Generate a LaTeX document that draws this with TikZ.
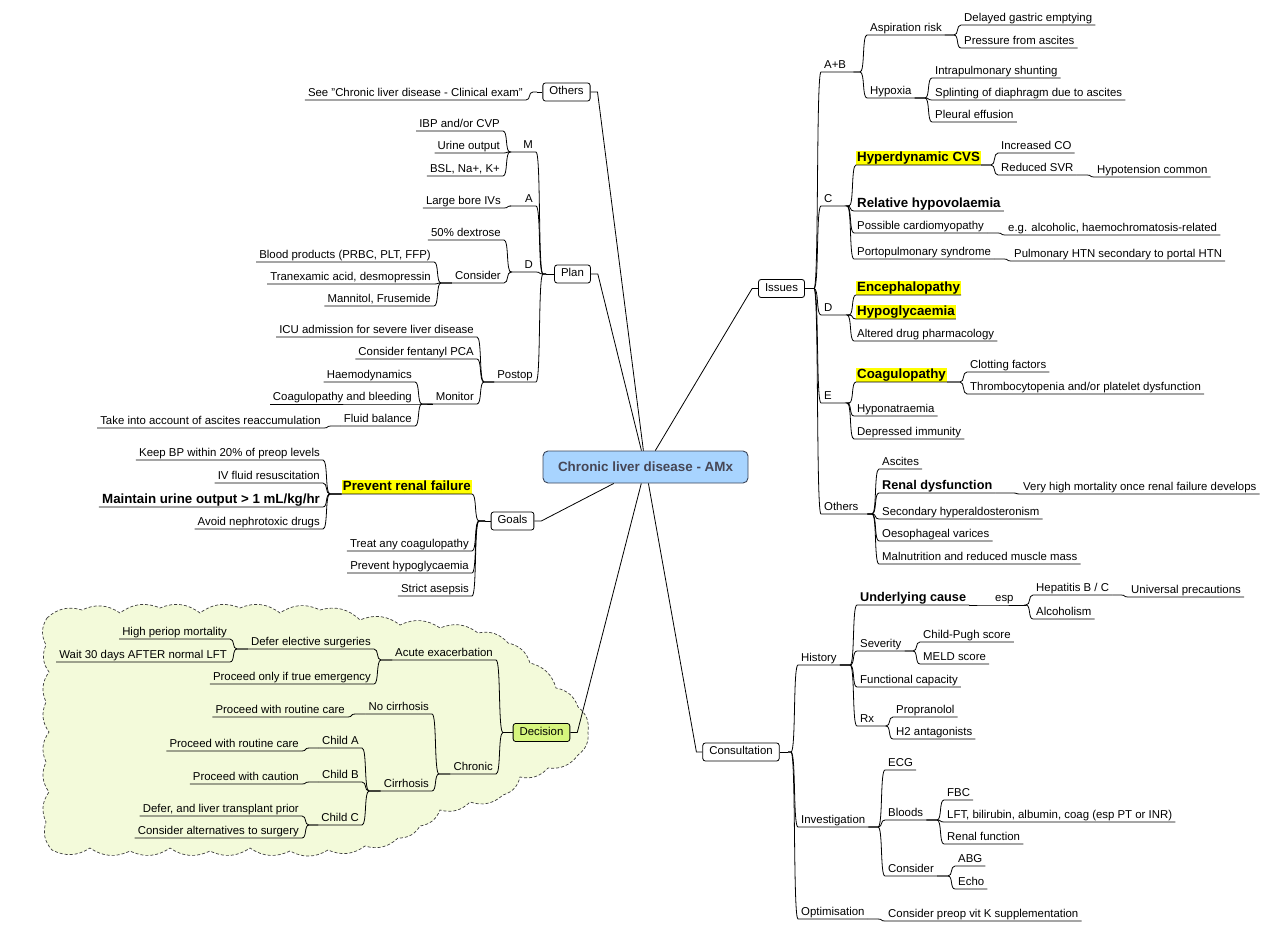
\documentclass[tikz,border=0pt]{standalone}
\usepackage{fontspec}
\setmainfont{Liberation Sans}
\usetikzlibrary{calc}
\definecolor{rootfill}{RGB}{168,212,255}
\definecolor{rootdraw}{RGB}{60,70,90}
\definecolor{roottext}{RGB}{70,70,85}
\definecolor{decfill}{RGB}{214,245,125}
\definecolor{cloudfill}{RGB}{243,250,218}
\definecolor{cloudline}{RGB}{60,60,60}
\definecolor{hly}{RGB}{255,255,0}
\newcommand\fntN{\fontsize{11.4}{13}\selectfont}
\newcommand\fntB{\fontsize{13.3}{15}\selectfont\bfseries}
\newcommand\fntM{\fontsize{12.7}{15}\selectfont\bfseries}
\newcommand\fntR{\fontsize{13.4}{15}\selectfont\bfseries}
\tikzset{
 conn/.style={line width=0.8pt, draw=black},
 tp/.style={font=\fntN, inner xsep=3pt, inner ysep=0pt, text height=8.5pt, text depth=3pt},
 R/.style={tp, anchor=south west},
 L/.style={tp, anchor=south east},
 big/.style={font=\fntB, text height=10pt, text depth=3.3pt},
 mid/.style={font=\fntM, text height=9.6pt, text depth=3.2pt},
 hl/.style={font=\fntB, fill=hly, inner xsep=1pt, text height=10.3pt, text depth=3.3pt},
 box/.style={draw=black, line width=0.8pt, rounded corners=2.5pt, fill=white, font=\fntN, inner xsep=6.5pt, inner ysep=0pt, text height=8.2pt, text depth=2.5pt, minimum height=18pt},
 rootbox/.style={draw=rootdraw, line width=0.9pt, rounded corners=5pt, fill=rootfill, text=roottext, font=\fntR, minimum width=205pt, minimum height=32pt},
 cloudst/.style={fill=cloudfill, draw=cloudline, line width=0.7pt, dash pattern=on 3pt off 2pt},
}
\newcommand\cR[2]{\draw[conn] (#1) -- ($(#2.south west |- #1)+(-7,0)$) to[out=0,in=180,distance=5pt] (#2.south west) -- (#2.south east);}
\newcommand\cL[2]{\draw[conn] (#1) -- ($(#2.south east |- #1)+(7,0)$) to[out=180,in=0,distance=5pt] (#2.south east) -- (#2.south west);}
\begin{document}
\begin{tikzpicture}[x=1pt,y=-1pt]
\useasboundingbox (0,0) rectangle (1267,939);
% cloud
\path[cloudst] (47,618) to[bend left=30] (82,610) to[bend left=30] (120,613) to[bend left=30] (160,608)
 to[bend left=30] (200,613) to[bend left=30] (240,608) to[bend left=30] (280,613) to[bend left=30] (320,610)
 to[bend left=30] (360,620) to[bend left=30] (400,625) to[bend left=30] (440,628) to[bend left=30] (478,633)
 to[bend left=30] (508,643) to[bend left=30] (530,663) to[bend left=30] (556,688) to[bend left=30] (578,707)
 to[bend left=30] (588,732) to[bend left=30] (578,755) to[bend left=30] (548,768) to[bend left=30] (520,777)
 to[bend left=30] (503,795) to[bend left=30] (470,802) to[bend left=30] (440,810) to[bend left=30] (420,826)
 to[bend left=30] (398,838) to[bend left=30] (365,846) to[bend left=30] (328,850) to[bend left=30] (290,851)
 to[bend left=30] (250,848) to[bend left=30] (210,851) to[bend left=30] (170,848) to[bend left=30] (130,851)
 to[bend left=30] (90,848) to[bend left=30] (52,850) to[bend left=30] (46,822) to[bend left=30] (49,792)
 to[bend left=30] (46,762) to[bend left=30] (49,732) to[bend left=30] (46,702) to[bend left=30] (49,672)
 to[bend left=30] (46,645) to[bend left=30] (47,618) -- cycle;

% boxes
\node[rootbox] (root) at (645.5,467) {Chronic liver disease - AMx};
\node[box] (others) at (566.5,92) {Others};
\node[box] (plan) at (572.5,274) {Plan};
\node[box] (goals) at (512.5,521) {Goals};
\node[box, fill=decfill] (decision) at (541.5,732.5) {Decision};
\node[box] (issues) at (781.5,288.5) {Issues};
\node[box] (consult) at (741,752) {Consultation};

% left: others + plan
\node[L] (seeCLD) at (526,100) {See "Chronic liver disease - Clinical exam"};
\node[L] (mM) at (536,152) {\makebox[20pt][r]{M}};
\node[L] (ibp) at (503,131) {IBP and/or CVP};
\node[L] (urine) at (503,153) {Urine output};
\node[L] (bsl) at (503,176) {BSL, Na+, K+};
\node[L] (aA) at (536,206) {\makebox[20pt][r]{A}};
\node[L] (lbiv) at (504,208) {Large bore IVs};
\node[L] (dDl) at (536,272) {\makebox[20pt][r]{D}};
\node[L] (dex) at (504,240) {50\% dextrose};
\node[L] (consD) at (504,283) {Consider};
\node[L] (blood) at (434,262) {Blood products (PRBC, PLT, FFP)};
\node[L] (tranex) at (434,284) {Tranexamic acid, desmopressin};
\node[L] (mann) at (434,306) {Mannitol, Frusemide};
\node[L] (postop) at (536,382) {Postop};
\node[L] (icu) at (477,337) {ICU admission for severe liver disease};
\node[L] (fent) at (477,359) {Consider fentanyl PCA};
\node[L] (monitor) at (477,404) {Monitor};
\node[L] (haem) at (415,382) {Haemodynamics};
\node[L] (coagb) at (415,404) {Coagulopathy and bleeding};
\node[L] (fluid) at (415,426) {Fluid balance};
\node[L] (ascreac) at (324,428) {Take into account of ascites reaccumulation};
% goals
\node[L,hl] (prf) at (472,494) {Prevent renal failure};
\node[L] (keepbp) at (323,460) {Keep BP within 20\% of preop levels};
\node[L] (ivf) at (323,483) {IV fluid resuscitation};
\node[L,big] (mainuo) at (323,507) {Maintain urine output > 1 mL/kg/hr};
\node[L] (avoid) at (323,529) {Avoid nephrotoxic drugs};
\node[L] (treat) at (472,551) {Treat any coagulopathy};
\node[L] (prevhypo) at (472,573) {Prevent hypoglycaemia};
\node[L] (asep) at (472,596) {Strict asepsis};
% decision
\node[L] (acute) at (496,660) {Acute exacerbation};
\node[L] (defer) at (374,649) {Defer elective surgeries};
\node[L] (highp) at (230,639) {High periop mortality};
\node[L] (wait30) at (230,662) {Wait 30 days AFTER normal LFT};
\node[L] (emerg) at (374,684) {Proceed only if true emergency};
\node[L] (chronic) at (496,774) {Chronic};
\node[L] (nocirr) at (432,714) {No cirrhosis};
\node[L] (routineA) at (348,717) {Proceed with routine care};
\node[L] (cirr) at (432,791) {Cirrhosis};
\node[L] (childA) at (362,748) {Child A};
\node[L] (routineB) at (302,751) {Proceed with routine care};
\node[L] (childB) at (362,782) {Child B};
\node[L] (caution) at (302,784) {Proceed with caution};
\node[L] (childC) at (362,825) {Child C};
\node[L] (deferLT) at (302,816) {Defer, and liver transplant prior};
\node[L] (altsurg) at (302,838) {Consider alternatives to surgery};

% right: issues
\node[R] (ab) at (821,72) {\makebox[26pt][l]{A+B}};
\node[R] (asp) at (867,35) {Aspiration risk};
\node[R] (delayed) at (961,25) {Delayed gastric emptying};
\node[R] (pressure) at (961,48) {Pressure from ascites};
\node[R] (hypoxia) at (867,98) {Hypoxia};
\node[R] (intra) at (932,78) {Intrapulmonary shunting};
\node[R] (splint) at (932,100) {Splinting of diaphragm due to ascites};
\node[R] (pleural) at (932,122) {Pleural effusion};
\node[R] (cC) at (821,206) {\makebox[22pt][l]{C}};
\node[R,hl] (hyper) at (856,165) {Hyperdynamic CVS};
\node[R] (incCO) at (998,153) {Increased CO};
\node[R] (redSVR) at (998,175) {Reduced SVR};
\node[R] (hypot) at (1094,177) {Hypotension common};
\node[R,big] (relhyp) at (854,211) {Relative hypovolaemia};
\node[R] (cardio) at (854,233) {Possible cardiomyopathy};
\node[R] (egalc) at (1005,235) {e.g. alcoholic, haemochromatosis-related};
\node[R] (porto) at (854,259) {Portopulmonary syndrome};
\node[R] (pulm) at (1011,261) {Pulmonary HTN secondary to portal HTN};
\node[R] (dD) at (821,315) {\makebox[22pt][l]{D}};
\node[R,hl] (enceph) at (856,295) {Encephalopathy};
\node[R,hl] (hypogly) at (856,319) {Hypoglycaemia};
\node[R] (altered) at (854,341) {Altered drug pharmacology};
\node[R] (eE) at (821,403) {\makebox[22pt][l]{E}};
\node[R,hl] (coagul) at (856,382) {Coagulopathy};
\node[R] (clot) at (967,372) {Clotting factors};
\node[R] (thromb) at (967,394) {Thrombocytopenia and/or platelet dysfunction};
\node[R] (hypona) at (854,416) {Hyponatraemia};
\node[R] (depimm) at (854,439) {Depressed immunity};
\node[R] (othR) at (821,514) {\makebox[40pt][l]{Others}};
\node[R] (ascites) at (879,469) {Ascites};
\node[R,mid] (renal) at (879,493) {Renal dysfunction};
\node[R] (vhm) at (1020,494) {Very high mortality once renal failure develops};
\node[R] (sechyp) at (879,519) {Secondary hyperaldosteronism};
\node[R] (oeso) at (879,541) {Oesophageal varices};
\node[R] (malnut) at (879,564) {Malnutrition and reduced muscle mass};
% consultation
\node[R] (history) at (798,665) {History};
\node[R,mid] (underl) at (857,605) {Underlying cause};
\node[R] (esp) at (992,605) {\makebox[28pt][l]{esp}};
\node[R] (hepBC) at (1033,595) {Hepatitis B / C};
\node[R] (univ) at (1128,597) {Universal precautions};
\node[R] (alcohol) at (1033,619) {Alcoholism};
\node[R] (severity) at (857,651) {Severity};
\node[R] (childpugh) at (920,642) {Child-Pugh score};
\node[R] (meld) at (920,664) {MELD score};
\node[R] (funccap) at (857,687) {Functional capacity};
\node[R] (rx) at (857,726) {\makebox[22pt][l]{Rx}};
\node[R] (propr) at (893,717) {Propranolol};
\node[R] (h2) at (893,739) {H2 antagonists};
\node[R] (invest) at (798,827) {Investigation};
\node[R] (ecg) at (885,770) {ECG};
\node[R] (bloods) at (885,820) {Bloods};
\node[R] (fbc) at (944,800) {FBC};
\node[R] (lft) at (944,822) {LFT, bilirubin, albumin, coag (esp PT or INR)};
\node[R] (renalf) at (944,844) {Renal function};
\node[R] (considI) at (885,876) {Consider};
\node[R] (abg) at (955,866) {ABG};
\node[R] (echo) at (955,889) {Echo};
\node[R] (optim) at (798,919) {Optimisation};
\node[R] (vitK) at (885,921) {Consider preop vit K supplementation};

% main connectors
\draw[conn] (root) -- ($(others.east)+(7,0)$) -- (others.east);
\draw[conn] (root) -- ($(plan.east)+(7,0)$) -- (plan.east);
\draw[conn] (root) -- ($(goals.east)+(7,0)$) -- (goals.east);
\draw[conn] (root) -- ($(decision.east)+(7,0)$) -- (decision.east);
\draw[conn] (root) -- ($(issues.west)+(-6,0)$) -- (issues.west);
\draw[conn] (root) -- ($(consult.west)+(-6,0)$) -- (consult.west);

% junctions
\coordinate (othJ) at (537,92);
\coordinate (planJ) at (546,274);
\coordinate (goalsJ) at (485,521);
\coordinate (decJ) at (506,732.5);
\coordinate (issJ) at (812,288.5);
\coordinate (conJ) at (788,752);
\draw[conn] (others.west) -- (othJ);
\draw[conn] (plan.west) -- (planJ);
\draw[conn] (goals.west) -- (goalsJ);
\draw[conn] (decision.west) -- (decJ);
\draw[conn] (issues.east) -- (issJ);
\draw[conn] (consult.east) -- (conJ);

% left branches
\cL{othJ}{seeCLD}
\foreach \c in {mM,aA,dDl,postop} {\cL{planJ}{\c}}
\foreach \c in {ibp,urine,bsl} {\cL{mM.south west}{\c}}
\cL{aA.south west}{lbiv}
\foreach \c in {dex,consD} {\cL{dDl.south west}{\c}}
\foreach \c in {blood,tranex,mann} {\cL{consD.south west}{\c}}
\foreach \c in {icu,fent,monitor} {\cL{postop.south west}{\c}}
\foreach \c in {haem,coagb,fluid} {\cL{monitor.south west}{\c}}
\cL{fluid.south west}{ascreac}
\foreach \c in {prf,treat,prevhypo,asep} {\cL{goalsJ}{\c}}
\foreach \c in {keepbp,ivf,mainuo,avoid} {\cL{prf.south west}{\c}}
\foreach \c in {acute,chronic} {\cL{decJ}{\c}}
\foreach \c in {defer,emerg} {\cL{acute.south west}{\c}}
\foreach \c in {highp,wait30} {\cL{defer.south west}{\c}}
\foreach \c in {nocirr,cirr} {\cL{chronic.south west}{\c}}
\cL{nocirr.south west}{routineA}
\foreach \c in {childA,childB,childC} {\cL{cirr.south west}{\c}}
\cL{childA.south west}{routineB}
\cL{childB.south west}{caution}
\foreach \c in {deferLT,altsurg} {\cL{childC.south west}{\c}}

% right branches
\foreach \c in {ab,cC,dD,eE,othR} {\cR{issJ}{\c}}
\foreach \c in {asp,hypoxia} {\cR{ab.south east}{\c}}
\foreach \c in {delayed,pressure} {\cR{asp.south east}{\c}}
\foreach \c in {intra,splint,pleural} {\cR{hypoxia.south east}{\c}}
\foreach \c in {hyper,relhyp,cardio,porto} {\cR{cC.south east}{\c}}
\foreach \c in {incCO,redSVR} {\cR{hyper.south east}{\c}}
\cR{redSVR.south east}{hypot}
\cR{cardio.south east}{egalc}
\cR{porto.south east}{pulm}
\foreach \c in {enceph,hypogly,altered} {\cR{dD.south east}{\c}}
\foreach \c in {coagul,hypona,depimm} {\cR{eE.south east}{\c}}
\foreach \c in {clot,thromb} {\cR{coagul.south east}{\c}}
\foreach \c in {ascites,renal,sechyp,oeso,malnut} {\cR{othR.south east}{\c}}
\cR{renal.south east}{vhm}
\foreach \c in {history,invest,optim} {\cR{conJ}{\c}}
\foreach \c in {underl,severity,funccap,rx} {\cR{history.south east}{\c}}
\cR{underl.south east}{esp}
\foreach \c in {hepBC,alcohol} {\cR{esp.south east}{\c}}
\cR{hepBC.south east}{univ}
\foreach \c in {childpugh,meld} {\cR{severity.south east}{\c}}
\foreach \c in {propr,h2} {\cR{rx.south east}{\c}}
\foreach \c in {ecg,bloods,considI} {\cR{invest.south east}{\c}}
\foreach \c in {fbc,lft,renalf} {\cR{bloods.south east}{\c}}
\foreach \c in {abg,echo} {\cR{considI.south east}{\c}}
\cR{optim.south east}{vitK}
\end{tikzpicture}
\end{document}
